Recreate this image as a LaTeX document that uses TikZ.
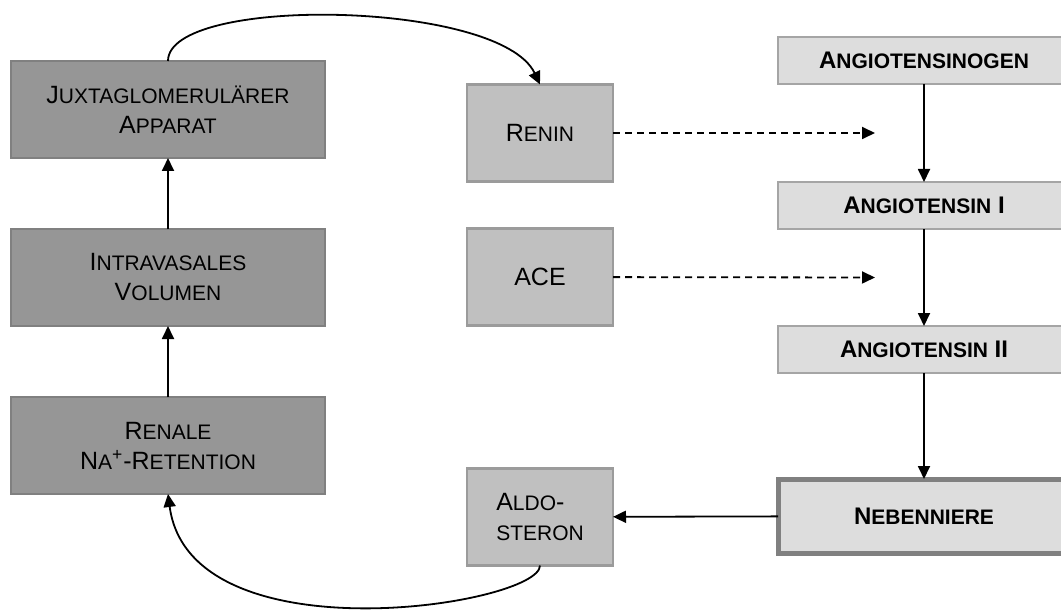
\documentclass[tikz,border=0pt]{standalone}
\usepackage{fontspec}
\setmainfont{Liberation Sans}
\usetikzlibrary{positioning,arrows.meta}
\definecolor{boxdark}{RGB}{150,150,150}
\definecolor{edgedark}{RGB}{128,128,128}
\definecolor{boxmid}{RGB}{192,192,192}
\definecolor{edgemid}{RGB}{155,155,155}
\definecolor{boxlight}{RGB}{221,221,221}
\definecolor{edgelight}{RGB}{165,165,165}
\newcommand{\lsc}[1]{{\fontsize{10.5}{15}\selectfont #1}}

\begin{document}
\begin{tikzpicture}[x=0.5pt, y=-0.5pt, every node/.style={font=\fontsize{12.5}{15}\selectfont}, >={Triangle[length=6.5pt,width=6pt]}]
  \tikzstyle{organ}=[draw=edgedark, fill=boxdark, line width=1.2pt, minimum width=157pt, minimum height=48.5pt, align=center, outer sep=0pt]
  \tikzstyle{enzym}=[draw=edgemid, fill=boxmid, line width=1.2pt, minimum width=73pt, minimum height=48.5pt, align=center, outer sep=0pt]
  \tikzstyle{stoff}=[draw=edgelight, fill=boxlight, line width=1.2pt, minimum width=146pt, minimum height=23.5pt, font=\bfseries\fontsize{12}{14}\selectfont, outer sep=0pt]
  \tikzstyle{pfeil}=[->, line width=0.9pt]
  \tikzstyle{wirkt}=[->, line width=0.9pt, dash pattern=on 3.5pt off 2.5pt]
  \useasboundingbox (0,0) rectangle (1061,610);
  % left column
  \node[organ] (jga) at (168,109.5) {J\lsc{UXTAGLOMERULÄRER}\\A\lsc{PPARAT}};
  \node[organ, below=35.5pt of jga] (ivv) {I\lsc{NTRAVASALES}\\V\lsc{OLUMEN}};
  \node[organ, below=35.5pt of ivv] (rnr) {R\lsc{ENALE}\\N\lsc{A}\textsuperscript{+}-R\lsc{ETENTION}};
  % middle column
  \node[enzym] (renin) at (540,133) {R\lsc{ENIN}};
  \node[enzym, below=23.5pt of renin] (ace) {ACE};
  \node[enzym, below=71.5pt of ace, align=left] (aldo) {A\lsc{LDO}-\\\lsc{STERON}};
  % right column
  \node[stoff] (agen) at (924,60.5) {A\lsc{NGIOTENSINOGEN}};
  \node[stoff, below=49pt of agen] (ang1) {A\lsc{NGIOTENSIN} I};
  \node[stoff, below=48.5pt of ang1] (ang2) {A\lsc{NGIOTENSIN} II};
  \node[stoff, below=53pt of ang2, minimum height=37pt, draw=edgedark, line width=2.5pt] (neb) {N\lsc{EBENNIERE}};
  \coordinate (reninziel) at (875,133);
  \coordinate (aceziel) at (875,277.5);
  % arrows
  \draw[pfeil] (rnr) -- (ivv);
  \draw[pfeil] (ivv) -- (jga);
  \draw[pfeil] (agen) -- (ang1);
  \draw[pfeil] (ang1) -- (ang2);
  \draw[pfeil] (ang2) -- (neb);
  \draw[pfeil] (neb) -- (aldo);
  \draw[wirkt] (renin) -- (reninziel);
  \draw[wirkt] (ace) -- (aceziel);
  % feedback loops
  \draw[pfeil] (jga.north) .. controls (168,-5) and (500,0) .. (renin.north);
  \draw[pfeil] (aldo.south) .. controls (540,605) and (190,660) .. (rnr.south);
\end{tikzpicture}
\end{document}
